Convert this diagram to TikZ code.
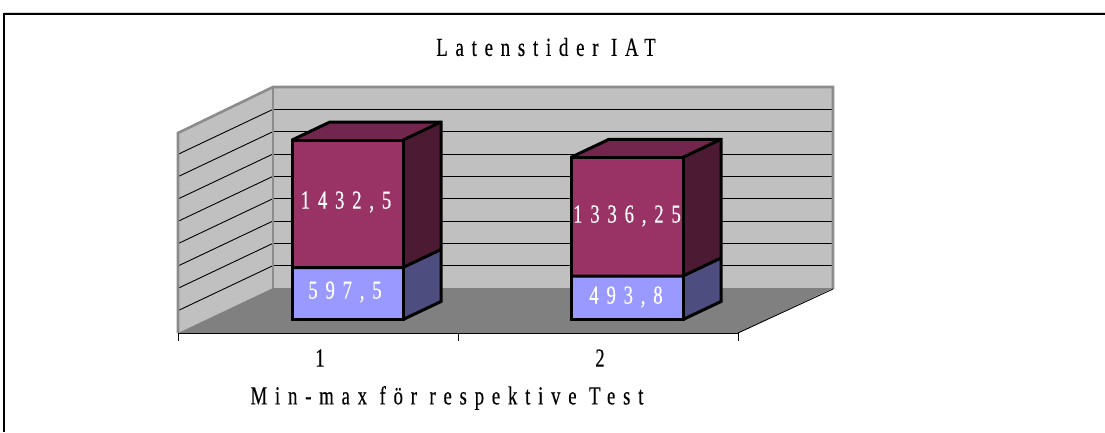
\documentclass[tikz,border=0pt]{standalone}
\usepackage{fontspec}
\newfontfamily\chartfont[FakeStretch=0.72,LetterSpace=30,FakeBold=0.4]{Liberation Serif}
\definecolor{wallgray}{HTML}{C0C0C0}
\definecolor{floorgray}{HTML}{808080}
\definecolor{edgegray}{HTML}{8C8C8C}
\definecolor{plumfront}{HTML}{993366}
\definecolor{plumtop}{HTML}{73264D}
\definecolor{plumside}{HTML}{4D1A33}
\definecolor{lilacfront}{HTML}{9999FF}
\definecolor{lilacside}{HTML}{4D4D80}
\tikzset{
  wall/.style={fill=wallgray},
  wallrim/.style={draw=edgegray,line width=2.6pt,line join=miter},
  gridline/.style={draw=black,line width=0.9pt},
  barface/.style={draw=black,line width=3pt,line join=miter},
  chartlabel/.style={font=\chartfont\fontsize{26}{29}\selectfont,inner sep=0pt},
  barlabel/.style={chartlabel,text=white},
  axisline/.style={draw=black,line width=1pt}
}
% one stacked 3D bar: #1 left x, #2 right x, #3 top y, #4 split y, #5 base y
\newcommand{\stackbar}[5]{%
  \fill[lilacfront] (#1,#4) rectangle (#2,#5);
  \fill[lilacside] (#2,#5) -- ++(38,-18) -- (#2+38,#4-18) -- (#2,#4) -- cycle;
  \fill[plumfront] (#1,#3) rectangle (#2,#4);
  \fill[plumside] (#2,#4) -- (#2+38,#4-18) -- (#2+38,#3-18) -- (#2,#3) -- cycle;
  \fill[plumtop] (#1,#3) -- (#1+38,#3-18) -- (#2+38,#3-18) -- (#2,#3) -- cycle;
  \draw[barface] (#1,#3) rectangle (#2,#5);
  \draw[barface] (#1,#4) -- (#2,#4) -- (#2+38,#4-18);
  \draw[barface] (#1,#3) -- (#1+38,#3-18) -- (#2+38,#3-18) -- (#2+38,#5-18) -- (#2,#5);
  \draw[barface] (#2,#3) -- (#2+38,#3-18);
}
\begin{document}
\begin{tikzpicture}[x=1pt,y=-1pt]
\useasboundingbox (0,0) rectangle (1105,432);
\fill[white] (0,0) rectangle (1105,432);

% chart frame
\draw[black!15,line width=1pt] (4,12) -- (1105,12);
\draw[black,line width=2pt] (1105,14) -- (4,14) -- (4,432);

% walls and floor
\fill[wall] (273,87) rectangle (833,288);
\fill[wall] (178,133) -- (273,87) -- (273,288) -- (178,333) -- cycle;
\fill[floorgray] (273,288) -- (833,288) -- (738,333) -- (178,333) -- cycle;

% grid lines on both walls
\foreach \k in {1,...,8} {
  \draw[gridline] (273,87+\k*22.33) -- (833,87+\k*22.33);
  \draw[gridline] (273,87+\k*22.33) -- (178,132+\k*22.33);
}

% wall rims
\draw[wallrim] (178,333) -- (178,133) -- (273,87) -- (833,87) -- (833,289);
\draw[wallrim] (273,87) -- (273,288);
\draw[black,line width=0.9pt] (833,289) -- (738,333);

% category axis
\draw[axisline] (178,333) -- (738,333);
\foreach \t in {178,458,738} \draw[axisline] (\t,333) -- (\t,341);

% bars
\stackbar{292}{403}{140}{267.5}{319.5}
\stackbar{571}{683}{157.3}{276}{319.5}

% texts
\node[chartlabel] (title) at (546,47) {Latenstider IAT};
\node[barlabel] (b1top) at (346,202) {1432,5};
\node[barlabel] (b1low) at (345,292) {597,5};
\node[barlabel] (b2top) at (627,216) {1336,25};
\node[barlabel] (b2low) at (626,297) {493,8};
\node[chartlabel] (cat1) at (320,358) {1};
\node[chartlabel] (cat2) at (600,358) {2};
\node[chartlabel] (xtitle) at (447,398) {Min-max för respektive Test};
\end{tikzpicture}
\end{document}
